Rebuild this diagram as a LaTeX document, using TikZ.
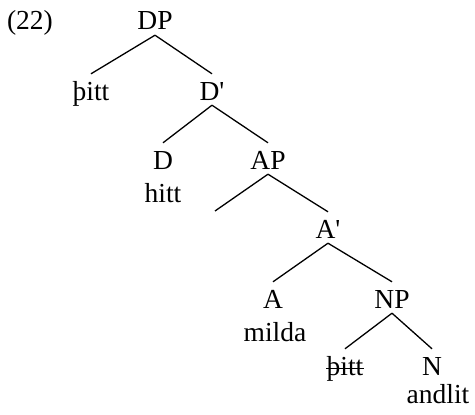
\documentclass[tikz,border=0pt]{standalone}
\usepackage{fontspec}
\setmainfont{Liberation Serif}
\begin{document}
\begin{tikzpicture}[x=1pt,y=-1pt,
  lab/.style={anchor=base,inner sep=0pt,text height=26pt,text depth=5pt,font=\fontsize{27.5}{31}\selectfont},
  edge/.style={line width=1.3pt}]
\useasboundingbox (0,0) rectangle (475,415);
\node[lab] (num) at (30,30) {(22)};
\node[lab] (DP) at (155,30) {DP};
\node[lab] (th1) at (91,100) {þitt};
\node[lab] (Dbar) at (212,100) {D\textquotesingle};
\node[lab] (D) at (163,169) {D};
\node[lab] (hitt) at (163,202) {hitt};
\node[lab] (AP) at (268,169) {AP};
\coordinate (empty) at (215,211);
\node[lab] (Abar) at (328,238) {A\textquotesingle};
\node[lab] (A) at (273,308) {A};
\node[lab] (milda) at (275,341) {milda};
\node[lab] (NP) at (392,308) {NP};
\node[lab] (th2) at (345,375) {þitt};
\node[lab] (N) at (432,375) {N};
\node[lab] (andlit) at (438,403) {andlit};
\draw[edge] (DP.south) -- (th1.north);
\draw[edge] (DP.south) -- (Dbar.north);
\draw[edge] (Dbar.south) -- (D.north);
\draw[edge] (Dbar.south) -- (AP.north);
\draw[edge] (AP.south) -- (empty);
\draw[edge] (AP.south) -- (Abar.north);
\draw[edge] (Abar.south) -- (A.north);
\draw[edge] (Abar.south) -- (NP.north);
\draw[edge] (NP.south) -- (th2.north);
\draw[edge] (NP.south) -- (N.north);
\draw[line width=1pt] ([yshift=6.5pt]th2.base west) -- ([yshift=6.5pt]th2.base east);
\end{tikzpicture}
\end{document}
